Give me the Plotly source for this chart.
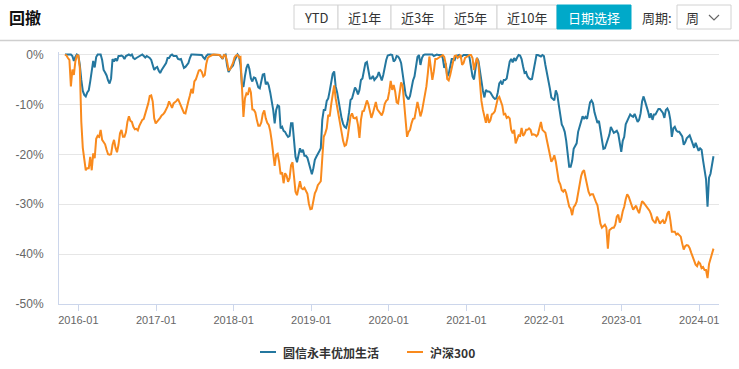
import pandas as pd
import plotly.graph_objects as go

# ---------------- data (weekly drawdown, %) ----------------
start_date = "2015-10-30"

fund_name = "圆信永丰优加生活"
index_name = "沪深300"

fund_dd = [
    0.0, 0.0, 0.0, 0.0, 0.0, -0.3, -1.3, -0.5, 0.0, -0.2,
    -2.1, -5.1, -7.3, -8.1, -8.4, -7.6, -7.2, -5.4, -3.3, -1.3,
    -2.6, -0.5, 0.0, 0.0, 0.0, -1.1, -3.1, -3.6, -4.2, -5.2,
    -5.8, -4.8, -0.9, -1.4, -0.8, -1.3, -0.3, -0.3, -0.2, -0.4,
    -0.9, -0.3, -0.1, 0.0, -0.2, 0.0, -0.7, -0.9, -0.7, -0.5,
    -0.4, -0.2, 0.0, -0.3, -0.6, -0.3, -0.5, -0.7, -1.1, -2.1,
    -3.1, -2.7, -2.5, -3.2, -3.7, -3.1, -2.6, -2.2, -1.7, -0.7,
    -0.7, -0.2,
    0.0, -0.3, -0.3, -0.3, -0.9, -1.0, -0.9, -1.7, -2.7, -2.5,
    -2.1, -1.7, -0.7, 0.0, 0.0, 0.0, 0.0, 0.0, 0.0, -0.1,
    -0.1, -0.6, -0.9, -0.3, 0.0, 0.0, 0.0, 0.0, 0.0, 0.0,
    0.0, 0.0, -0.1, -0.5, -0.9, -0.1, 0.0, -2.2, -3.5, -2.9,
    -2.5, -2.2, -1.2, -0.6, 0.0, -0.4, -2.1, -6.1, -6.5, -4.4,
    -2.7, -1.9, -2.9, -4.8, -5.4, -4.6, -4.7, -5.6, -6.6, -6.8,
    -5.3, -4.0, -3.9, -6.0, -5.5, -6.2, -7.6, -9.2, -11.1, -13.8,
    -11.1, -10.2, -10.4, -14.8,
    -14.5, -15.3, -15.5, -16.1, -16.5, -16.3, -13.8, -13.8, -17.5, -20.5,
    -21.6, -20.0, -18.8, -19.6, -19.1, -20.3, -20.3, -20.7, -22.0, -23.2,
    -24.0, -22.8, -21.1, -20.5, -19.8, -19.4, -18.8, -13.1, -11.1, -11.1,
    -9.3, -8.8, -7.3, -5.6, -3.9, -3.4, -6.4, -7.6, -9.4, -11.3,
    -12.8, -13.9, -14.5, -14.7, -13.6, -11.6, -9.1, -8.8, -7.4, -6.6,
    -7.1, -8.0, -7.1, -5.1, -4.8, -3.5, -1.7, -1.5, -3.3, -4.8,
    -4.8, -4.3, -5.1, -4.8, -4.4, -3.5, -4.4, -5.2, -4.1, -2.1,
    -1.1, -0.2, -0.1, 0.0,
    -0.1, -1.4, -1.1, -0.3, -0.4, -0.9, -1.7, -3.5, -5.4, -8.0,
    -8.6, -9.0, -8.3, -6.6, -5.2, -4.4, -1.9, -0.5, -0.1, -2.1,
    -0.7, -0.1, 0.0, 0.0, 0.0, 0.0, 0.0, 0.0, -0.3, -0.1,
    0.0, -0.1, -0.1, -0.1, -0.7, -2.7, -1.8, -4.4, -3.9, -2.4,
    -0.9, -0.9, -1.1, -0.3, -0.2, -0.1, -0.6, -0.3, -0.1, -0.1,
    -0.1, -0.1, -0.6, -2.2, -4.4, -5.0, -3.1, -0.7, -1.3, -3.7,
    -6.0, -7.3, -8.6, -7.1, -7.4, -7.4, -7.6, -8.2, -8.6, -8.9,
    -8.8, -7.6, -5.8, -5.4,
    -6.0, -5.1, -5.1, -4.8, -3.1, -1.4, -0.9, -1.6, -0.7, -1.3,
    -0.6, -0.1, -0.2, -0.9, -2.4, -3.7, -3.5, -4.4, -4.8, -5.0,
    -4.9, -3.1, -1.1, -0.1, -0.1, -0.2, -0.4, -0.1, -0.3, -2.1,
    -3.5, -5.0, -6.8, -8.6, -8.9, -9.2, -7.2, -8.0, -10.1, -12.5,
    -14.0, -14.6, -15.5, -17.3, -19.8, -22.5, -22.5, -21.3, -18.9, -18.3,
    -17.8, -15.5, -14.3, -13.2, -12.4, -12.8, -12.5, -12.9, -11.4, -9.6,
    -9.2, -9.8, -11.6, -12.9, -13.7, -13.3, -15.3, -17.8, -18.9, -18.8,
    -17.8, -16.7, -16.1, -14.5,
    -15.3, -15.7, -15.5, -15.3, -15.9, -17.5, -19.5, -17.3, -16.5, -14.0,
    -13.3, -12.7, -12.0, -12.3, -12.5, -11.9, -12.6, -13.5, -13.1, -11.8,
    -9.4, -8.4, -9.4, -10.2, -11.4, -12.7, -11.8, -13.1, -12.0, -12.0,
    -11.4, -10.9, -10.9, -11.2, -11.7, -12.7, -11.1, -10.8, -11.5, -13.1,
    -16.5, -14.8, -14.5, -15.2, -15.5, -15.5, -16.1, -16.4, -18.1, -17.6,
    -16.8, -16.4, -16.2, -17.0, -18.1, -18.7, -17.7, -18.7, -19.3, -18.8,
    -19.1, -21.2, -23.2, -25.0, -30.5, -24.7, -23.9, -21.9, -20.4,
]

index_dd = [
    0.0, -0.2, -0.7, -1.1, -6.4, -3.0, -4.1, -1.4, -0.2, -0.2,
    -2.7, -13.5, -18.7, -21.2, -23.2, -22.8, -22.8, -20.5, -23.2, -19.8,
    -20.8, -16.9, -16.3, -16.5, -15.1, -17.1, -17.7, -18.0, -19.1, -20.0,
    -20.1, -20.0, -18.1, -17.1, -18.7, -19.6, -18.1, -15.8, -15.1, -16.5,
    -16.5, -15.6, -13.5, -12.4, -13.3, -13.5, -14.5, -15.0, -14.9, -15.2,
    -14.3, -13.5, -13.1, -12.9, -11.8, -11.2, -9.8, -8.3, -8.2, -9.4,
    -12.8, -13.8, -13.5, -13.2, -12.7, -12.2, -12.0, -11.6, -11.0, -10.4,
    -9.4, -10.1,
    -10.7, -9.8, -9.6, -9.3, -8.9, -9.6, -10.2, -10.8, -11.7, -11.8,
    -10.2, -9.3, -8.2, -6.9, -7.8, -5.4, -5.0, -4.1, -3.2, -3.1,
    -3.5, -4.4, -4.1, -1.9, -0.7, -0.4, -0.2, -0.1, 0.0, 0.0,
    0.0, 0.0, -0.1, -0.5, -0.7, -0.1, -0.2, -1.4, -3.1, -3.0,
    -2.4, -1.7, -0.6, -0.2, -0.1, -0.6, -0.5, -8.5, -12.5, -8.8,
    -7.8, -8.1, -6.6, -7.6, -11.0, -11.1, -11.6, -13.1, -14.3, -14.3,
    -13.6, -11.9, -11.2, -12.8, -13.7, -14.1, -15.3, -17.3, -19.6, -22.3,
    -20.1, -19.9, -21.5, -24.0,
    -23.6, -25.8, -23.8, -24.3, -25.5, -24.8, -22.2, -21.6, -24.5, -27.5,
    -28.2, -26.8, -25.4, -26.8, -27.0, -26.7, -27.3, -27.9, -29.9, -31.0,
    -30.9, -29.4, -27.8, -27.2, -26.2, -25.8, -25.4, -20.8, -16.5, -15.8,
    -14.8, -12.1, -12.4, -10.0, -7.7, -6.2, -8.8, -10.6, -12.1, -14.3,
    -16.0, -17.3, -18.3, -18.1, -16.7, -14.9, -12.4, -11.8, -12.7, -12.8,
    -12.6, -14.1, -16.7, -13.1, -11.4, -11.3, -10.0, -9.2, -10.0, -11.8,
    -12.7, -11.8, -10.3, -9.5, -11.0, -11.4, -11.6, -12.2, -11.4, -9.9,
    -9.3, -9.0, -7.5, -5.3,
    -7.1, -6.1, -7.4, -9.6, -9.8, -7.8, -5.6, -6.2, -9.3, -13.3,
    -16.5, -15.5, -15.1, -13.8, -12.9, -12.8, -10.6, -9.5, -10.9, -12.4,
    -11.4, -9.8, -8.0, -6.4, -3.7, -0.4, -2.7, -5.1, -3.4, -0.9,
    -0.9, -0.7, -0.4, -0.3, -0.1, -0.5, -1.9, -4.9, -5.2, -4.1,
    -2.5, -1.4, -0.3, -0.2, -0.7, -0.4, -0.1, -2.1, -1.7, -0.7,
    -0.4, -0.3, -0.1, -0.1, -0.7, -3.1, -1.7, -0.7, -1.9, -5.8,
    -9.3, -11.1, -12.3, -13.7, -11.9, -13.7, -13.2, -12.0, -11.8, -11.4,
    -10.1, -8.8, -8.5, -9.3,
    -10.2, -12.0, -11.9, -12.7, -12.5, -12.8, -15.1, -15.8, -15.1, -17.8,
    -16.8, -16.2, -16.3, -14.7, -16.3, -15.9, -15.1, -15.1, -14.8, -15.1,
    -16.1, -16.0, -16.1, -16.4, -16.0, -14.8, -13.5, -15.1, -15.4, -15.7,
    -17.2, -18.7, -19.8, -21.5, -21.0, -20.2, -21.5, -23.2, -25.4, -26.0,
    -27.2, -27.5, -27.0, -27.8, -29.0, -30.5, -30.9, -32.2, -30.6, -30.2,
    -29.5, -27.5, -25.8, -24.4, -23.5, -23.2, -24.7, -26.4, -27.5, -28.2,
    -28.0, -28.0, -29.0, -29.6, -30.2, -32.5, -33.9, -34.7, -34.3, -34.1,
    -34.7, -38.9, -35.2, -34.9,
    -34.7, -34.7, -34.1, -32.5, -32.1, -33.7, -32.9, -31.4, -30.5, -29.0,
    -28.0, -28.5, -29.4, -30.2, -31.1, -30.7, -30.3, -31.2, -31.8, -30.5,
    -29.4, -29.7, -30.1, -30.5, -30.9, -31.3, -32.0, -33.1, -33.5, -33.8,
    -32.5, -33.4, -33.9, -33.5, -33.2, -33.9, -33.2, -31.9, -31.4, -33.2,
    -35.5, -35.5, -35.5, -36.1, -35.9, -36.2, -36.5, -37.9, -39.1, -38.4,
    -38.2, -38.3, -38.8, -39.7, -40.6, -41.4, -42.1, -42.4, -41.6, -41.9,
    -42.8, -42.6, -43.2, -43.2, -44.8, -42.0, -40.8, -39.6, -38.9,
]

y_tick_values = [0, -10, -20, -30, -40, -50]
y_tick_labels = ["0%", "-10%", "-20%", "-30%", "-40%", "-50%"]
x_tick_values = ["2016-01-01", "2017-01-01", "2018-01-01", "2019-01-01", "2020-01-01",
                 "2021-01-01", "2022-01-01", "2023-01-01", "2024-01-01"]
x_tick_labels = ["2016-01", "2017-01", "2018-01", "2019-01", "2020-01",
                 "2021-01", "2022-01", "2023-01", "2024-01"]

buttons = ["YTD", "近1年", "近3年", "近5年", "近10年", "日期选择"]
active_button = "日期选择"
title_text = "回撤"
period_label = "周期:"
period_value = "周"

dates = pd.date_range(start_date, periods=len(fund_dd), freq="7D")

# ---------------- layout geometry ----------------
W, H = 739, 369
ML, MR, MT, MB = 59, 20, 52, 65
PW, PH = W - ML - MR, H - MT - MB


def X(px):
    return (px - ML) / PW


def Y(py):
    return (H - MB - py) / PH


BLUE = "#24779f"
ORANGE = "#f98a1d"
TEAL = "#00a9c9"
FONT = "Liberation Sans, Arial, Noto Sans CJK SC, sans-serif"
CJK = "Noto Sans CJK SC, Liberation Sans, sans-serif"

fig = go.Figure()
fig.add_trace(go.Scatter(x=dates, y=fund_dd, mode="lines", name=fund_name,
                         line=dict(color=BLUE, width=2)))
fig.add_trace(go.Scatter(x=dates, y=index_dd, mode="lines", name=index_name,
                         line=dict(color=ORANGE, width=2)))

shapes = []
annotations = []

# header separator
shapes.append(dict(type="line", xref="paper", yref="paper", x0=X(0), x1=X(W),
                   y0=Y(40.5), y1=Y(40.5), line=dict(color="#cfcfcf", width=1.5)))

# title
annotations.append(dict(text="<b>" + title_text + "</b>", xref="paper", yref="paper",
                        x=X(7), y=Y(17), xanchor="left", yanchor="middle", showarrow=False,
                        font=dict(family=CJK, size=16, color="#111")))

# button group
edges = [294, 338, 391, 444, 497, 557, 631]
for i, label in enumerate(buttons):
    x0, x1 = edges[i], edges[i + 1]
    active = label == active_button
    shapes.append(dict(type="rect", xref="paper", yref="paper",
                       x0=X(x0), x1=X(x1), y0=Y(29), y1=Y(5),
                       fillcolor=TEAL if active else "white",
                       line=dict(color=TEAL if active else "#d2d2d2", width=1)))
    annotations.append(dict(text=label, xref="paper", yref="paper",
                            x=X((x0 + x1) / 2), y=Y(17), xanchor="center", yanchor="middle",
                            showarrow=False,
                            font=dict(family=CJK, size=13, color="white" if active else "#333")))

annotations.append(dict(text=period_label, xref="paper", yref="paper", x=X(640), y=Y(17),
                        xanchor="left", yanchor="middle", showarrow=False,
                        font=dict(family=CJK, size=13, color="#333")))
shapes.append(dict(type="rect", xref="paper", yref="paper", x0=X(677), x1=X(731),
                   y0=Y(29), y1=Y(5), fillcolor="white", line=dict(color="#d2d2d2", width=1)))
annotations.append(dict(text=period_value, xref="paper", yref="paper", x=X(684), y=Y(17),
                        xanchor="left", yanchor="middle", showarrow=False,
                        font=dict(family=CJK, size=13, color="#333")))
shapes.append(dict(type="path", xref="paper", yref="paper",
                   path=f"M {X(709)},{Y(15)} L {X(714)},{Y(20)} L {X(719)},{Y(15)}",
                   line=dict(color="#666", width=1.2)))

# legend (manual, centred under the plot)
legend_items = [(fund_name, BLUE, 260), (index_name, ORANGE, 407)]
for name, color, lx in legend_items:
    shapes.append(dict(type="line", xref="paper", yref="paper", x0=X(lx), x1=X(lx + 16),
                       y0=Y(352), y1=Y(352), line=dict(color=color, width=2)))
    annotations.append(dict(text="<b>" + name + "</b>", xref="paper", yref="paper",
                            x=X(lx + 21), y=Y(352), xanchor="left", yanchor="middle",
                            showarrow=False, font=dict(family=CJK, size=12, color="#333")))

fig.update_layout(
    width=W, height=H,
    margin=dict(l=ML, r=MR, t=MT, b=MB, pad=0),
    paper_bgcolor="white", plot_bgcolor="white",
    showlegend=False,
    font=dict(family=FONT, size=11, color="#666"),
    shapes=shapes, annotations=annotations,
    xaxis=dict(type="date", range=["2015-10-02", "2024-04-03"],
               tickvals=x_tick_values, ticktext=x_tick_labels,
               showgrid=False, showline=True, linecolor="#ccd6eb", linewidth=1,
               ticks="outside", ticklen=6, tickcolor="#ccd6eb",
               tickfont=dict(family=FONT, size=11, color="#666"), zeroline=False),
    yaxis=dict(range=[-50, 0.5], tickvals=y_tick_values, ticktext=y_tick_labels,
               showgrid=True, gridcolor="#e6e6e6", gridwidth=1,
               showline=True, linecolor="#ccd6eb", linewidth=1,
               ticks="", zeroline=False, ticklabelstandoff=12,
               tickfont=dict(family=FONT, size=12, color="#666")),
)

fig.write_html("out.html", config={"displayModeBar": False},
               post_script="document.body.style.margin='0px';")
